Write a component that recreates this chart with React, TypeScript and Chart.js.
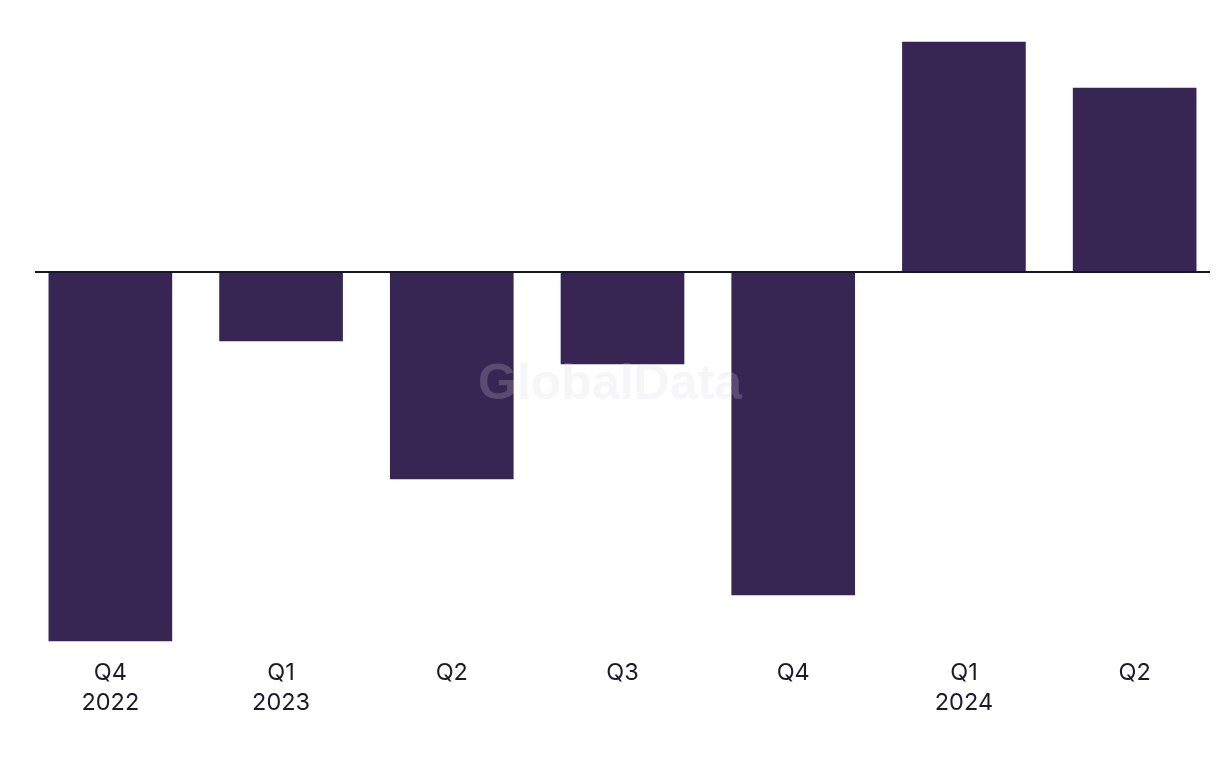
import React, { useEffect, useRef } from "react";
import { Chart, registerables } from "chart.js";

Chart.register(...registerables);

const quarters: string[][] = [
  ["Q4", "2022"],
  ["Q1", "2023"],
  ["Q2"],
  ["Q3"],
  ["Q4"],
  ["Q1", "2024"],
  ["Q2"],
];
const values: number[] = [-3.69, -0.69, -2.07, -0.92, -3.23, 2.3, 1.84];

const BAR_COLOR = "#372554";
const TEXT_COLOR = "#1c1b2e";

const zeroLinePlugin = {
  id: "zeroLine",
  afterDatasetsDraw(chart: any) {
    const { ctx, scales } = chart;
    const y = scales.y.getPixelForValue(0);
    ctx.save();
    ctx.strokeStyle = "#14142a";
    ctx.lineWidth = 2;
    ctx.beginPath();
    ctx.moveTo(35, y);
    ctx.lineTo(1210, y);
    ctx.stroke();
    // watermark
    ctx.fillStyle = "rgba(215,215,222,0.22)";
    ctx.font = "bold 50px 'Liberation Sans', Arial, sans-serif";
    ctx.textAlign = "center";
    ctx.textBaseline = "middle";
    ctx.fillText("GlobalData", 610, 385);
    ctx.restore();
  },
};

export default function App() {
  const ref = useRef<HTMLCanvasElement | null>(null);
  useEffect(() => {
    if (!ref.current) return;
    const chart = new Chart(ref.current, {
      type: "bar",
      data: {
        labels: quarters,
        datasets: [
          {
            data: values,
            backgroundColor: BAR_COLOR,
            borderWidth: 0,
            barThickness: 123,
          },
        ],
      },
      options: {
        animation: false,
        responsive: false,
        maintainAspectRatio: false,
        layout: { padding: { left: 25, right: 0, top: 22, bottom: 0 } },
        plugins: {
          legend: { display: false },
          tooltip: { enabled: false },
        },
        scales: {
          x: {
            offset: true,
            grid: { display: false, drawTicks: false },
            border: { display: false },
            afterFit: (s: any) => {
              s.height = 121;
            },
            ticks: {
              padding: 11,
              color: TEXT_COLOR,
              maxRotation: 0,
              autoSkip: false,
              font: { family: "Inter, 'Liberation Sans', sans-serif", size: 23.5, lineHeight: 1.28 },
            },
          },
          y: {
            display: false,
            min: -3.75,
            max: 2.5,
          },
        },
      },
      plugins: [zeroLinePlugin],
    });
    return () => chart.destroy();
  }, []);
  return (
    <div style={{ position: "fixed", left: 0, top: 0, width: 1220, height: 768, background: "#fff" }}>
      <canvas ref={ref} width={1220} height={768} style={{ width: 1220, height: 768 }} />
    </div>
  );
}
